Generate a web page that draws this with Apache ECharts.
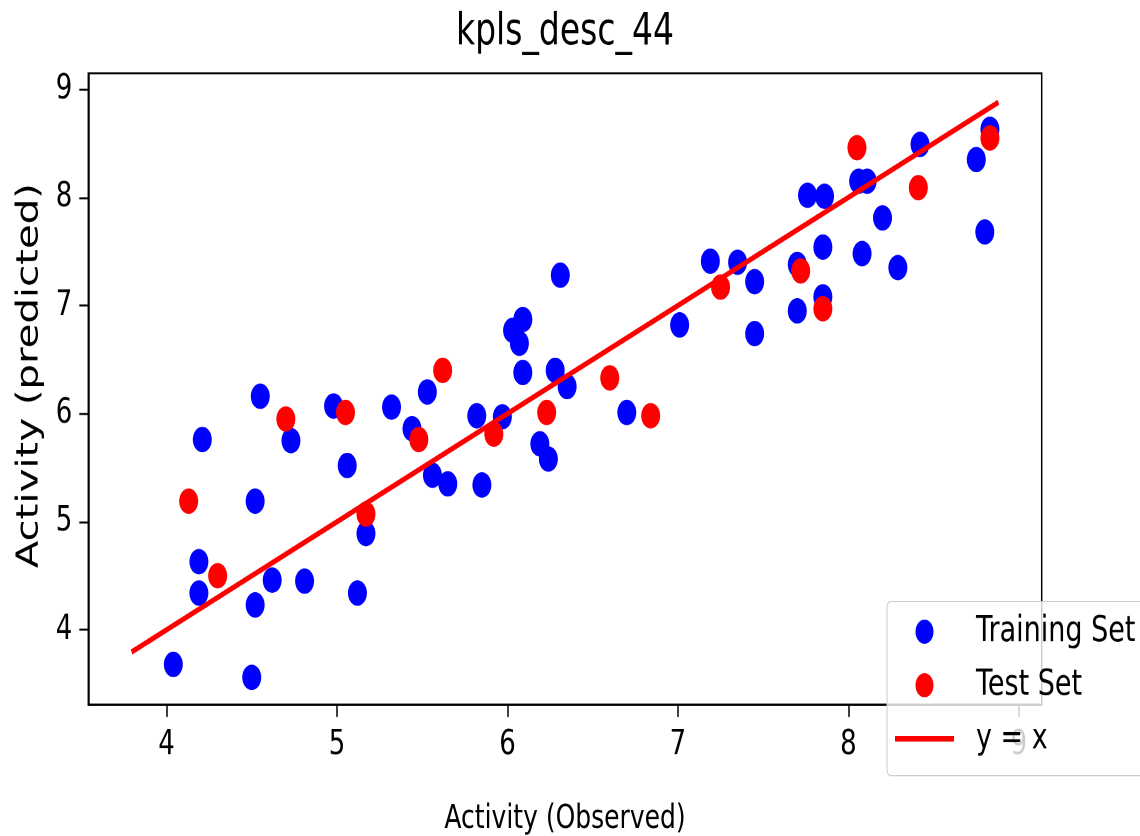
<!DOCTYPE html>
<html>
<head>
<meta charset="utf-8">
<title>kpls_desc_44</title>
<script src="https://cdn.jsdelivr.net/npm/echarts@6/dist/echarts.min.js"></script>
<style>
    html, body { margin: 0; padding: 0; background: #fff; overflow: hidden; }
    #wrap { width: 1140px; height: 836px; overflow: hidden; }
    /* the source picture is a plot stretched vertically, so draw flat and stretch */
    #chart { width: 1140px; height: 624px; transform: scaleY(1.3397); transform-origin: 0 0; }
</style>
</head>
<body>
<div id="wrap"><div id="chart"></div></div>
<script>
// Observed / predicted activity, training set
var trainObs = [4.04, 4.50, 4.19, 4.19, 4.52, 4.21, 4.55, 4.62, 4.81, 4.52, 4.73, 4.98, 5.06, 5.12, 5.17,
    5.32, 5.44, 5.53, 5.56, 5.65, 5.82, 5.97, 5.85, 6.03, 6.09, 6.07, 6.09, 6.28, 6.31, 6.35, 6.19, 6.24,
    6.70, 7.01, 7.19, 7.35, 7.45, 7.45, 7.70, 7.70, 7.85, 7.85, 7.76, 7.86, 8.06, 8.11, 8.08, 8.20, 8.29,
    8.42, 8.75, 8.80, 8.83];
var trainPred = [3.68, 3.56, 4.63, 4.34, 5.19, 5.76, 6.16, 4.46, 4.45, 4.23, 5.75, 6.07, 5.52, 4.34, 4.89,
    6.06, 5.86, 6.20, 5.43, 5.35, 5.98, 5.97, 5.34, 6.77, 6.87, 6.65, 6.38, 6.40, 7.28, 6.25, 5.72, 5.58,
    6.01, 6.82, 7.41, 7.40, 7.22, 6.74, 7.38, 6.95, 7.08, 7.54, 8.02, 8.01, 8.15, 8.15, 7.48, 7.81, 7.35,
    8.49, 8.35, 7.68, 8.63];
// Test set
var testObs = [4.13, 4.30, 4.70, 5.05, 5.17, 5.48, 5.62, 5.92, 6.23, 6.60, 6.84, 7.25, 7.72, 7.85, 8.05, 8.41, 8.83];
var testPred = [5.19, 4.50, 5.95, 6.01, 5.07, 5.76, 6.40, 5.81, 6.01, 6.33, 5.98, 7.17, 7.32, 6.97, 8.46, 8.09, 8.55];
// y = x reference line ends
var lineEnds = [3.795, 8.88];
var tickValues = [4, 5, 6, 7, 8, 9];

var font = 'DejaVu Sans';
var pair = function (xs, ys) {
    return xs.map(function (x, i) { return [x, ys[i]]; });
};

var chart = echarts.init(document.getElementById('chart'), null, { devicePixelRatio: 2 });
chart.setOption({
    animation: false,
    title: {
        text: 'kpls_desc_44',
        left: 565,
        textAlign: 'center',
        top: 8,
        padding: 0,
        textStyle: { fontFamily: font, fontSize: 33, fontWeight: 'normal', color: '#000' }
    },
    legend: {
        orient: 'vertical',
        left: 887,
        top: 449,
        itemWidth: 59,
        itemHeight: 18,
        itemGap: 13,
        padding: [9, 10, 14, 8],
        backgroundColor: 'rgba(255,255,255,0.8)',
        borderColor: '#cccccc',
        borderWidth: 1,
        borderRadius: 4,
        textStyle: { fontFamily: font, fontSize: 27, color: '#000', padding: [0, 0, 0, 17] },
        data: [
            { name: 'Training Set' },
            { name: 'Test Set' },
            // plain line handle, no marker
            { name: 'y = x', icon: 'path://M0,0 M0,7 L59,7 L59,11 L0,11 Z M59,18' }
        ]
    },
    grid: {
        left: 88.3,
        right: 98.3,
        top: 54.7,
        bottom: 97.9,
        containLabel: false,
        outerBoundsMode: 'none',
        show: true,
        borderColor: '#000',
        borderWidth: 1.5,
        backgroundColor: 'transparent'
    },
    xAxis: {
        type: 'value',
        min: 3.5413,
        max: 9.1337,
        name: 'Activity (Observed)',
        nameLocation: 'middle',
        nameGap: 73,
        nameTextStyle: { fontFamily: font, fontSize: 25, color: '#000' },
        axisLine: { lineStyle: { color: '#000', width: 1.5 } },
        axisTick: { length: 9, lineStyle: { color: '#000', width: 1.5 }, customValues: tickValues },
        axisLabel: { fontFamily: font, fontSize: 26, color: '#000', margin: 17, customValues: tickValues },
        splitLine: { show: false }
    },
    yAxis: {
        type: 'value',
        min: 3.306,
        max: 9.148,
        name: 'Activity (predicted)',
        nameLocation: 'middle',
        nameGap: 40,
        nameTextStyle: { fontFamily: font, fontSize: 30, color: '#000', padding: [0, 0, 0, 20] },
        axisLine: { show: true, lineStyle: { color: '#000', width: 1.5 } },
        axisTick: { show: true, length: 9, lineStyle: { color: '#000', width: 1.5 }, customValues: tickValues },
        axisLabel: { fontFamily: font, fontSize: 26, color: '#000', margin: 16, customValues: tickValues },
        splitLine: { show: false }
    },
    series: [{
        name: 'Training Set',
        type: 'scatter',
        data: pair(trainObs, trainPred),
        symbol: 'circle',
        symbolSize: 19,
        symbolKeepAspect: true,
        itemStyle: { color: '#0000ff', opacity: 1 },
        z: 2
    }, {
        name: 'Test Set',
        type: 'scatter',
        data: pair(testObs, testPred),
        symbol: 'circle',
        symbolSize: 19,
        symbolKeepAspect: true,
        itemStyle: { color: '#ff0000', opacity: 1 },
        z: 3
    }, {
        name: 'y = x',
        type: 'line',
        data: pair(lineEnds, lineEnds),
        symbol: 'none',
        lineStyle: { color: '#ff0000', width: 4 },
        itemStyle: { color: '#ff0000' },
        z: 4
    }]
});
</script>
</body>
</html>
